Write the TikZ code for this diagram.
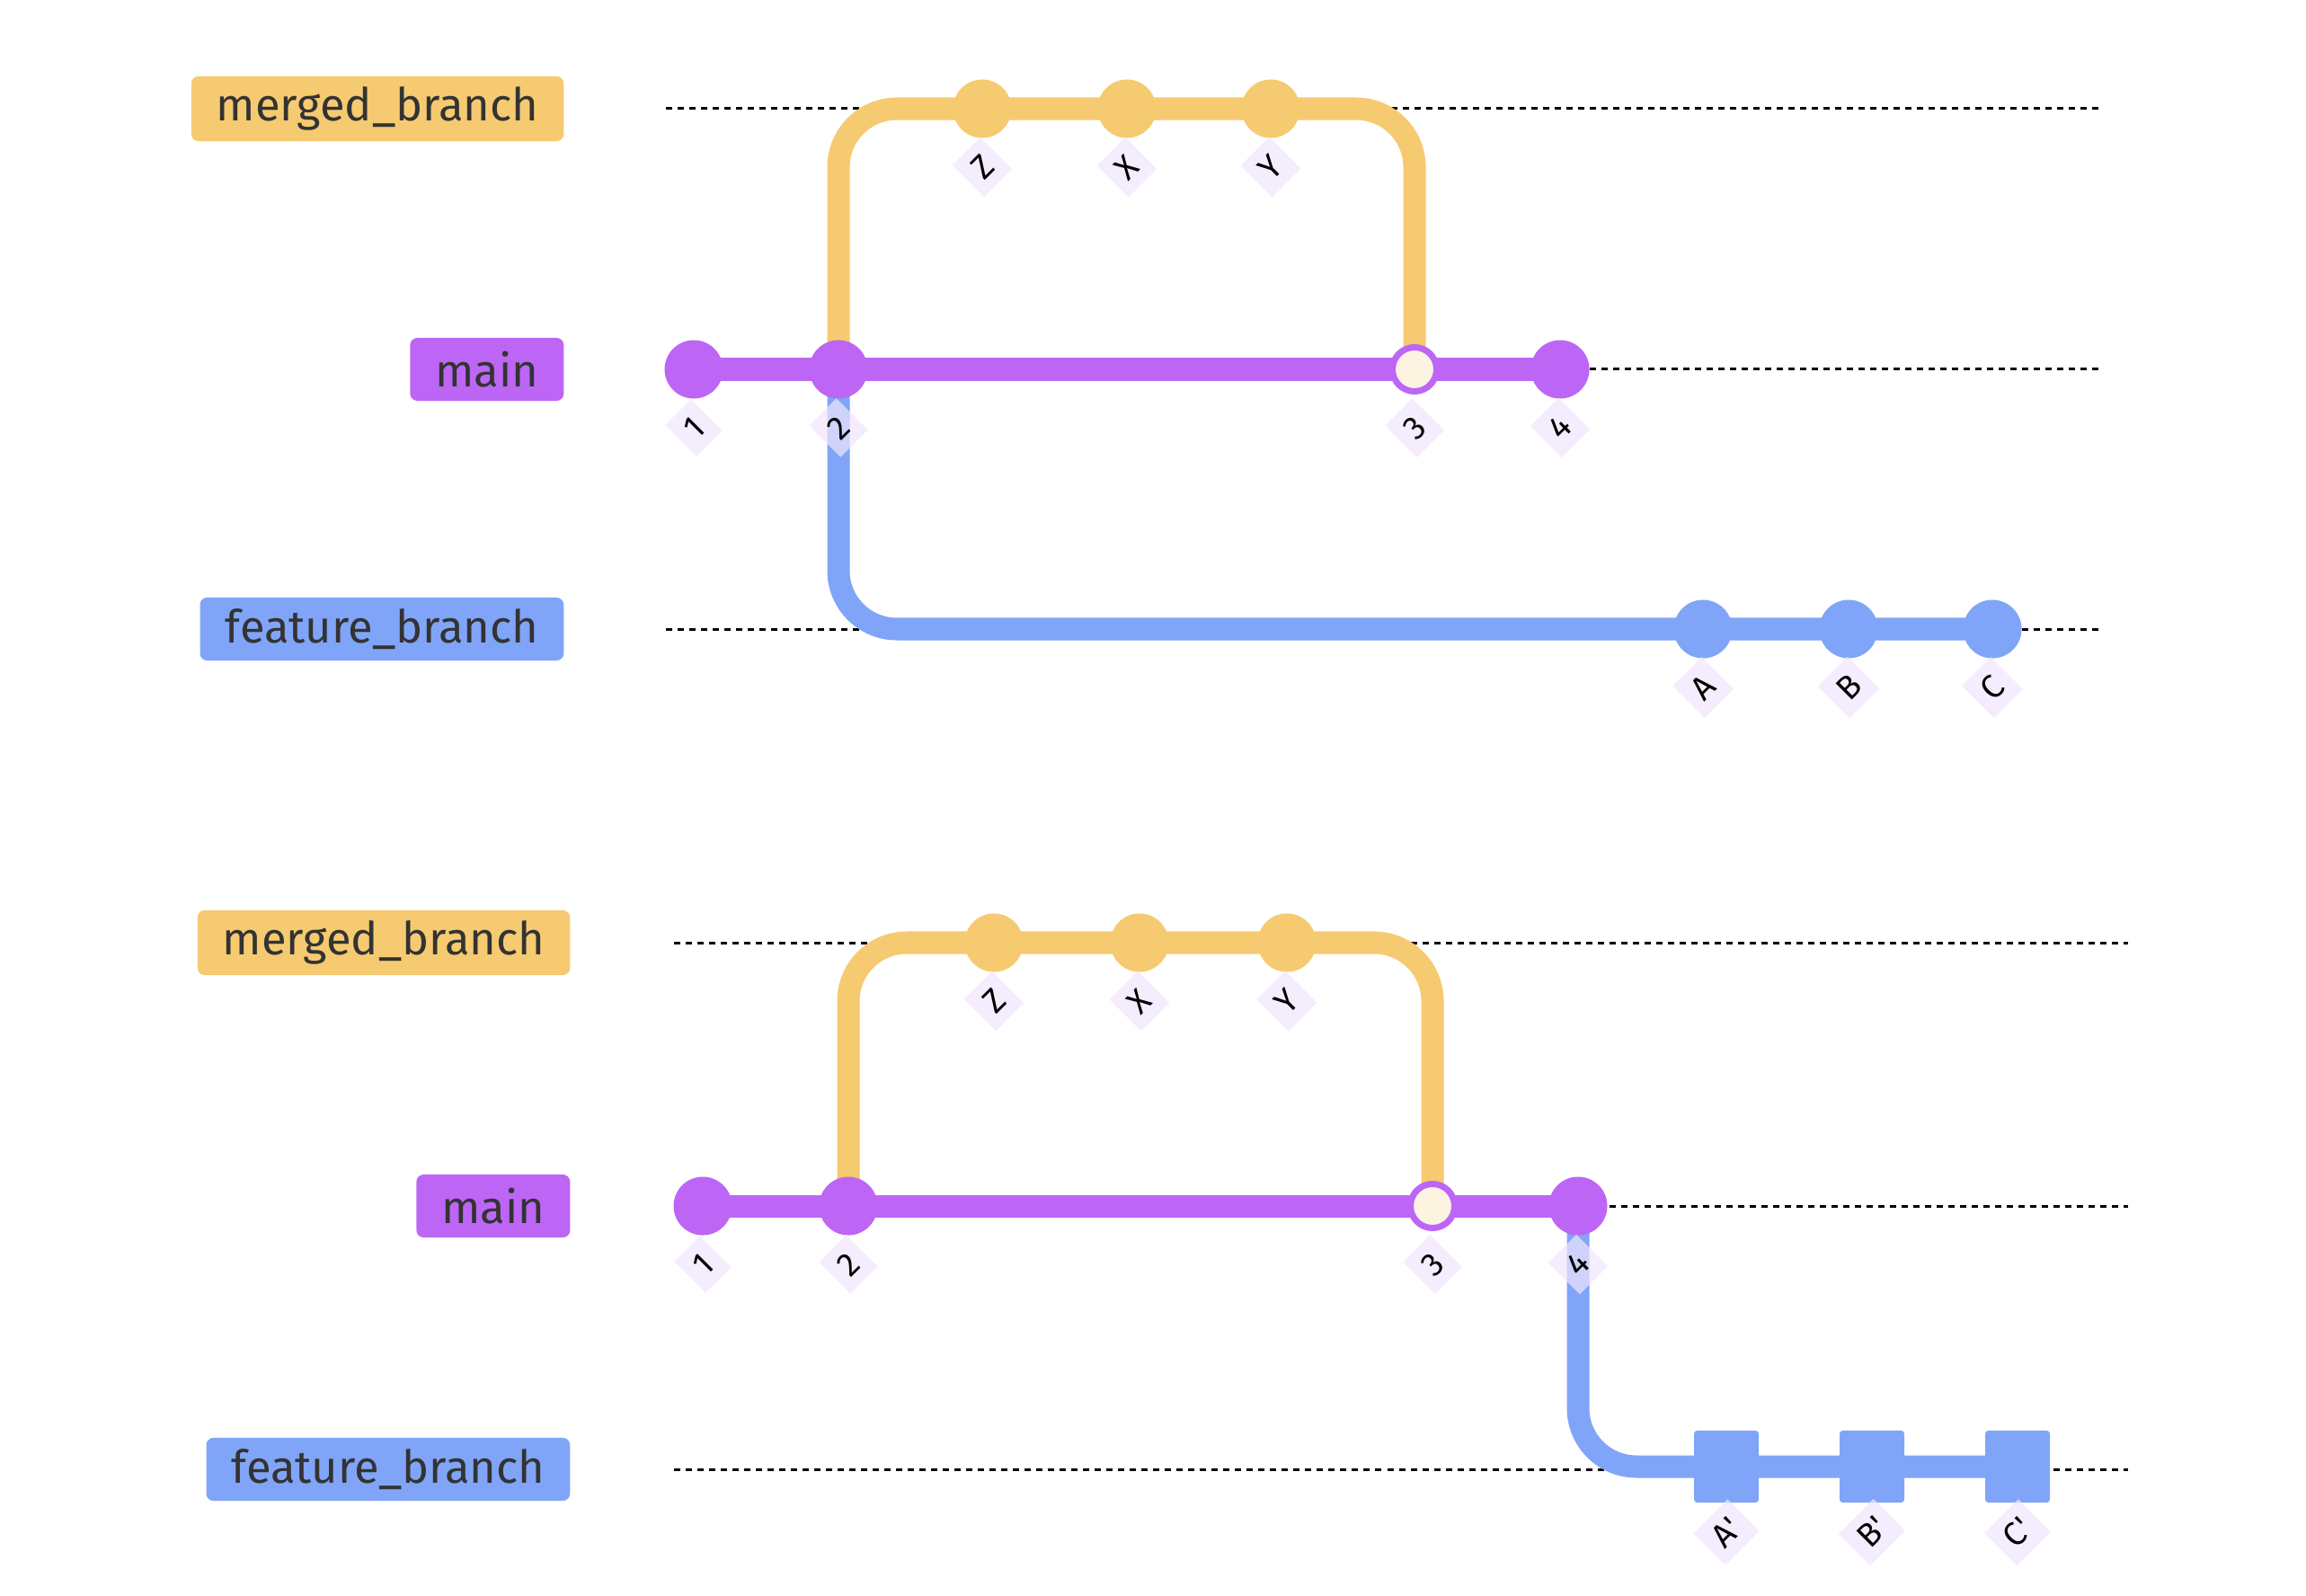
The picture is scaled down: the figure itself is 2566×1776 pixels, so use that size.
\documentclass[tikz,border=0pt]{standalone}
\usepackage{fontspec}
\setmainfont{Fira Sans}
\usetikzlibrary{positioning}
\pgfdeclarelayer{bg}
\pgfsetlayers{bg,main}
\definecolor{pmain}{HTML}{BD66F5}
\definecolor{pmerged}{HTML}{F6CA70}
\definecolor{pfeat}{HTML}{80A5F8}
\definecolor{cream}{HTML}{FCF3E1}
\definecolor{tagbg}{HTML}{F1E6FC}
\definecolor{txt}{HTML}{333333}

\begin{document}
\begin{tikzpicture}[x=0.01cm, y=-0.01cm,
  br/.style={anchor=east, rounded corners=0.08cm, minimum height=0.7cm, inner xsep=0.28cm, text=txt, font=\fontsize{14.4}{16}\selectfont},
  c/.style={circle, inner sep=0, minimum size=0.65cm},
  cmerge/.style={circle, inner sep=0, minimum size=0.49cm, fill=cream, draw=pmain, line width=0.07cm},
  sq/.style={rectangle, inner sep=0, minimum width=0.72cm, minimum height=0.8cm, rounded corners=1pt, fill=pfeat},
  tagbox/.style={rotate=45, fill=tagbg, fill opacity=0.7, text opacity=1, inner sep=3.5pt, font=\fontsize{10.5}{12}\selectfont},
  tag/.style={yshift=-0.65cm, tagbox},
  tagsq/.style={yshift=-0.73cm, tagbox},
  s/.style={line width=0.25cm, rounded corners=0.65cm},
  lane/.style={line width=0.03cm, dash pattern=on 0.07cm off 0.06cm}]
  \useasboundingbox (0,0) rectangle (2566,1776);

  % before
  \node[br, fill=pmerged] (mb1) at (628,121) {merged\_branch};
  \node[br, fill=pmain] (mn1) at (628,411) {main};
  \node[br, fill=pfeat] (fb1) at (628,700) {feature\_branch};

  \node[c, fill=pmain] (p1) at (772,411) {};
  \node[c, fill=pmain] (p2) at (933,411) {};
  \node[cmerge] (p3) at (1574,411) {};
  \node[c, fill=pmain] (p4) at (1736,411) {};
  \node[c, fill=pmerged] (z1) at (1093,121) {};
  \node[c, fill=pmerged] (x1) at (1254,121) {};
  \node[c, fill=pmerged] (y1) at (1414,121) {};
  \node[c, fill=pfeat] (a1) at (1895,700) {};
  \node[c, fill=pfeat] (b1) at (2057,700) {};
  \node[c, fill=pfeat] (cc1) at (2217,700) {};

  \node[tag] (p1_tag) at (p1) {1};
  \node[tag] (p2_tag) at (p2) {2};
  \node[tag] (p3_tag) at (p3) {3};
  \node[tag] (p4_tag) at (p4) {4};
  \node[tag] (z1_tag) at (z1) {Z};
  \node[tag] (x1_tag) at (x1) {X};
  \node[tag] (y1_tag) at (y1) {Y};
  \node[tag] (a1_tag) at (a1) {A};
  \node[tag] (b1_tag) at (b1) {B};
  \node[tag] (cc1_tag) at (cc1) {C};

  \begin{pgfonlayer}{bg}
    \draw[lane] (741,121) -- (2340,121);
    \draw[lane] (741,411) -- (2340,411);
    \draw[lane] (741,700) -- (2340,700);
    \draw[s, pmerged] (p2.center) |- (z1.center) -- (x1.center) -- (y1.center) -| (p3.center);
    \draw[s, pfeat] (p2.center) |- (a1.center) -- (b1.center) -- (cc1.center);
    \draw[s, pmain] (p1.center) -- (p2.center) -- (p3.center) -- (p4.center);
  \end{pgfonlayer}

  % after
  \node[br, fill=pmerged] (mb2) at (635,1049) {merged\_branch};
  \node[br, fill=pmain] (mn2) at (635,1342) {main};
  \node[br, fill=pfeat] (fb2) at (635,1635) {feature\_branch};

  \node[c, fill=pmain] (q1) at (782,1342) {};
  \node[c, fill=pmain] (q2) at (944,1342) {};
  \node[cmerge] (q3) at (1594,1342) {};
  \node[c, fill=pmain] (q4) at (1756,1342) {};
  \node[c, fill=pmerged] (z2) at (1106,1049) {};
  \node[c, fill=pmerged] (x2) at (1268,1049) {};
  \node[c, fill=pmerged] (y2) at (1432,1049) {};
  \node[sq] (a2) at (1921,1632) {};
  \node[sq] (b2) at (2083,1632) {};
  \node[sq] (cc2) at (2245,1632) {};

  \node[tag] (q1_tag) at (q1) {1};
  \node[tag] (q2_tag) at (q2) {2};
  \node[tag] (q3_tag) at (q3) {3};
  \node[tag] (q4_tag) at (q4) {4};
  \node[tag] (z2_tag) at (z2) {Z};
  \node[tag] (x2_tag) at (x2) {X};
  \node[tag] (y2_tag) at (y2) {Y};
  \node[tagsq] (a2_tag) at (a2) {A\textquotesingle};
  \node[tagsq] (b2_tag) at (b2) {B\textquotesingle};
  \node[tagsq] (cc2_tag) at (cc2) {C\textquotesingle};

  \begin{pgfonlayer}{bg}
    \draw[lane] (750,1049) -- (2368,1049);
    \draw[lane] (750,1342) -- (2368,1342);
    \draw[lane] (750,1635) -- (2368,1635);
    \draw[s, pmerged] (q2.center) |- (z2.center) -- (x2.center) -- (y2.center) -| (q3.center);
    \draw[s, pmain] (q1.center) -- (q2.center) -- (q3.center) -- (q4.center);
    \draw[s, pfeat] (q4.center) |- (a2.center) -- (b2.center) -- (cc2.center);
  \end{pgfonlayer}
\end{tikzpicture}
\end{document}
